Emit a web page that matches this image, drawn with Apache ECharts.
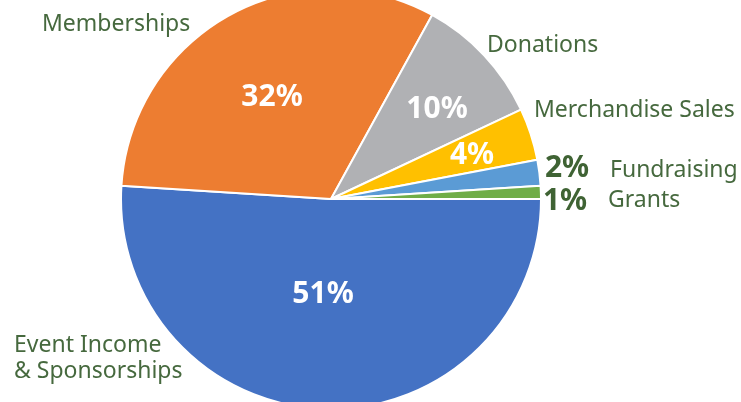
<!DOCTYPE html>
<html>
<head>
<meta charset="utf-8">
<script src="https://cdn.jsdelivr.net/npm/echarts@6/dist/echarts.min.js"></script>
<style>
  html, body { margin: 0; padding: 0; background: #fff; }
  #main { width: 741px; height: 402px; }
</style>
</head>
<body>
<div id="main"></div>
<script>
// data
var categories = ['Event Income & Sponsorships', 'Memberships', 'Donations', 'Merchandise Sales', 'Fundraising', 'Grants'];
var shares = [51, 32, 10, 4, 2, 1];
var colors = ['#4472C4', '#ED7D31', '#B0B1B4', '#FFC000', '#5B9BD5', '#70AD47'];
// name label text lines (as printed on the picture)
var nameLines = [['Event Income', '& Sponsorships'], ['Memberships'], ['Donations'], ['Merchandise Sales'], ['Fundraising'], ['Grants']];

var textGreen = '#46693E';
var font = '"Noto Sans", sans-serif';

// where each percentage label sits
var pctPos = [[323, 294], [272, 97], [437, 109], [472, 155], [567, 168], [565, 201]];
// where each name sits (left edge, middle of first line)
var namePos = [[14, 345], [42, 24], [487, 45], [534, 110], [610, 170], [608, 200]];

var myChart = echarts.init(document.getElementById('main'));

var pieData = categories.map(function (c, i) {
    var outside = i >= 4;
    return {
        name: c,
        value: shares[i],
        itemStyle: { color: colors[i] },
        label: {
            color: outside ? '#3F6334' : '#fff'
        }
    };
});

var nameTexts = [];
nameLines.forEach(function (lines, i) {
    lines.forEach(function (t, k) {
        nameTexts.push({
            type: 'text',
            x: namePos[i][0],
            y: namePos[i][1] + k * 26,
            style: {
                text: t,
                fill: textGreen,
                font: '23px ' + font,
                align: 'left',
                verticalAlign: 'middle'
            }
        });
    });
});

var option = {
    animation: false,
    series: [
        {
            type: 'pie',
            center: [331, 199],
            radius: 210,
            startAngle: 0,
            clockwise: true,
            data: pieData,
            itemStyle: {
                borderColor: '#fff',
                borderWidth: 2
            },
            label: {
                show: true,
                position: 'inside',
                formatter: '{d}%',
                fontFamily: font,
                fontWeight: 'bold',
                fontSize: 30
            },
            labelLine: { show: false },
            labelLayout: function (params) {
                var p = pctPos[params.dataIndex];
                return { x: p[0], y: p[1], align: 'center', verticalAlign: 'middle' };
            },
            emphasis: { disabled: true }
        }
    ],
    graphic: nameTexts
};
myChart.setOption(option);
</script>
</body>
</html>
